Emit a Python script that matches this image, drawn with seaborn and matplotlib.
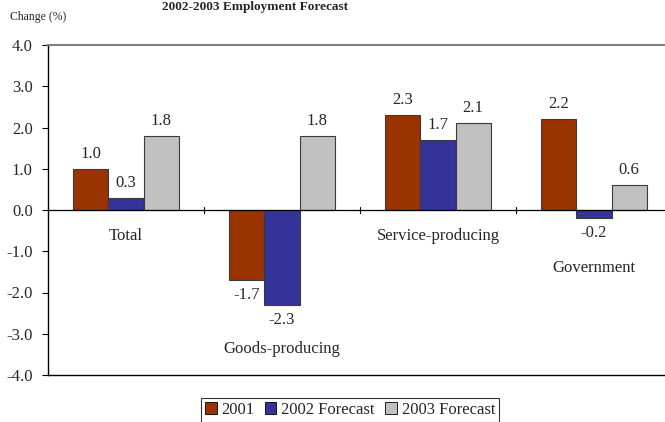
import matplotlib
matplotlib.use("Agg")
import matplotlib.pyplot as plt
from matplotlib.patches import Patch
import seaborn as sns
import pandas as pd

# Employment change by sector, percent
sectors = ["Total", "Goods-producing", "Service-producing", "Government"]
series = ["2001", "2002 Forecast", "2003 Forecast"]
values_2001 = [1.0, -1.7, 2.3, 2.2]
values_2002 = [0.3, -2.3, 1.7, -0.2]
values_2003 = [1.8, 1.8, 2.1, 0.6]
y_ticks = [-4.0, -3.0, -2.0, -1.0, 0.0, 1.0, 2.0, 3.0, 4.0]

colors = ["#993300", "#333399", "#C0C0C0"]

df = pd.DataFrame({
    "sector": sectors * 3,
    "series": [s for s in series for _ in sectors],
    "change": values_2001 + values_2002 + values_2003,
})

sns.set_style("white")
plt.rcParams["font.family"] = ["Liberation Serif", "DejaVu Serif"]

fig = plt.figure(figsize=(6.65, 4.22), dpi=100)
ax = fig.add_axes([48 / 665, 47 / 422, 624 / 665, 330 / 422])

sns.barplot(data=df, x="sector", y="change", hue="series", order=sectors,
            hue_order=series, palette=colors, width=0.675, gap=0,
            edgecolor="#3a3a3a", linewidth=0.8, saturation=1, ax=ax,
            legend=False, errorbar=None)

for cont in ax.containers:
    ax.bar_label(cont, fmt="%.1f", padding=5, fontsize=12)

ax.set_xlim(-0.5, 3.5)
ax.set_ylim(-4.0, 4.0)
ax.set_yticks(y_ticks)
ax.set_yticklabels([f"{v:.1f}" for v in y_ticks], fontsize=12)
ax.tick_params(axis="y", direction="out", length=4, width=0.8,
               color="black", pad=7, left=True)
ax.set_xticks([])
ax.set_xlabel("")
ax.set_ylabel("")

# zero line with category separators
ax.axhline(0, color="black", lw=0.9, zorder=3)
for b in [0.5, 1.5, 2.5]:
    ax.plot([b, b], [-0.08, 0.08], color="black", lw=0.8, zorder=3)

for side in ["left", "bottom"]:
    ax.spines[side].set_color("black")
    ax.spines[side].set_linewidth(1.0)
ax.spines["top"].set_color("#808080")
ax.spines["top"].set_linewidth(1.5)
ax.spines["right"].set_visible(False)

# sector names inside the plot
label_y = [-0.63, -3.37, -0.63, -1.4]
for i, (name, yy) in enumerate(zip(sectors, label_y)):
    ax.text(i, yy, name, ha="center", va="center", fontsize=12)

fig.text(255 / 665, 1 - 10 / 422, "2002-2003 Employment Forecast",
         ha="center", va="baseline", fontsize=9.5, fontweight="bold")
fig.text(10 / 665, 1 - 17 / 422, "Change (%)", ha="left", va="center",
         fontsize=8.5)

handles = [Patch(facecolor=c, edgecolor="black", linewidth=0.6) for c in colors]
leg = fig.legend(handles, series, loc="center",
                 bbox_to_anchor=(350 / 665, 1 - 410 / 422), ncol=3,
                 fontsize=12, frameon=True, fancybox=False,
                 handlelength=0.7, handleheight=0.7, handletextpad=0.3,
                 columnspacing=0.6, borderpad=0.25, borderaxespad=0)
leg.get_frame().set_edgecolor("black")
leg.get_frame().set_linewidth(0.8)

fig.savefig("out.png", dpi=100)
